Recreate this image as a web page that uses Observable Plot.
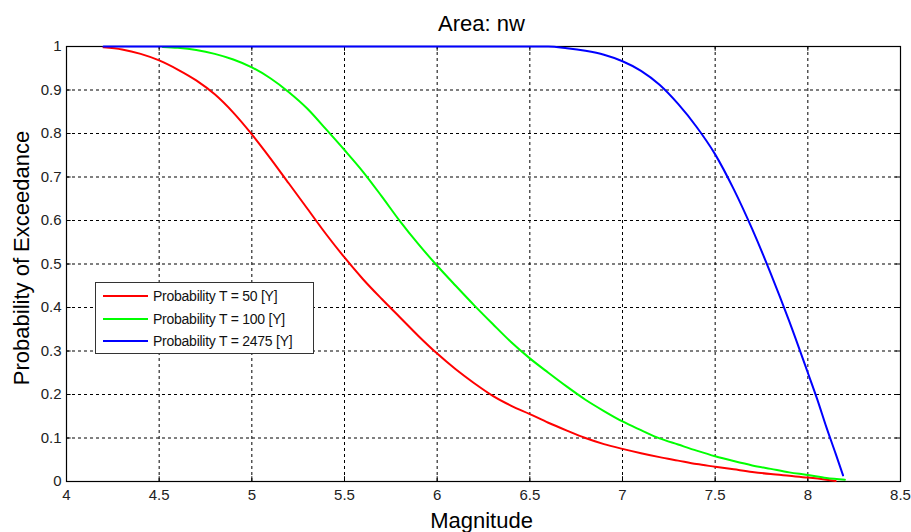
<!DOCTYPE html>
<html>
<head>
<meta charset="utf-8">
<script src="https://cdn.jsdelivr.net/npm/d3@7"></script>
<script src="https://cdn.jsdelivr.net/npm/@observablehq/plot@0.6"></script>
<style>
  html, body { margin: 0; padding: 0; background: #fff; }
  #wrap { position: relative; width: 911px; height: 532px; font-family: Arial, "Liberation Sans", sans-serif; }
  #legend { position: absolute; left: 95px; top: 282px; width: 219px; height: 72px; background: #fff; border: 1px solid #333; box-sizing: border-box; }
  .row { position: absolute; left: 7px; height: 20px; display: flex; align-items: center; }
  .sw { width: 45px; height: 2px; margin-right: 5px; }
  .lbl { font-size: 14px; letter-spacing: -0.25px; color: #111; white-space: nowrap; }
</style>
</head>
<body>
<div id="wrap"></div>
<script>
const titleText = "Area: nw";
const xLabel = "Magnitude";
const yLabel = "Probability of Exceedance";
const xTicks = [4, 4.5, 5, 5.5, 6, 6.5, 7, 7.5, 8, 8.5];
const yTicks = [0, 0.1, 0.2, 0.3, 0.4, 0.5, 0.6, 0.7, 0.8, 0.9, 1];

const seriesNames = ["Probability T = 50 [Y]", "Probability T = 100 [Y]", "Probability T = 2475 [Y]"];
const seriesColors = ["#ff0000", "#00ff00", "#0000ff"];

const magT50 = [4.2,4.3,4.4,4.5,4.6,4.7,4.8,4.9,5.0,5.1,5.2,5.3,5.4,5.5,5.6,5.7,5.8,5.9,6.0,6.1,6.2,6.3,6.4,6.5,6.6,6.7,6.8,6.9,7.0,7.1,7.2,7.3,7.4,7.5,7.6,7.7,7.8,7.9,8.0,8.1,8.15];
const probT50 = [0.998,0.993,0.983,0.968,0.947,0.922,0.89,0.848,0.798,0.743,0.685,0.627,0.569,0.515,0.465,0.42,0.377,0.334,0.294,0.258,0.226,0.197,0.174,0.155,0.135,0.117,0.100,0.086,0.075,0.065,0.056,0.048,0.040,0.034,0.028,0.022,0.017,0.013,0.009,0.004,0.001];

const magT100 = [4.52,4.6,4.7,4.8,4.9,5.0,5.1,5.2,5.3,5.4,5.5,5.6,5.7,5.8,5.9,6.0,6.1,6.2,6.3,6.4,6.5,6.6,6.7,6.8,6.9,7.0,7.1,7.2,7.3,7.4,7.5,7.6,7.7,7.8,7.9,8.0,8.1,8.2];
const probT100 = [0.999,0.997,0.992,0.983,0.97,0.952,0.927,0.895,0.857,0.81,0.762,0.712,0.656,0.598,0.545,0.496,0.45,0.405,0.362,0.32,0.283,0.25,0.218,0.188,0.162,0.138,0.118,0.099,0.085,0.071,0.058,0.047,0.037,0.029,0.021,0.015,0.008,0.004];

const magT2475 = [4.2,5.0,6.0,6.6,6.7,6.8,6.9,7.0,7.1,7.2,7.3,7.4,7.5,7.6,7.7,7.8,7.9,8.0,8.05,8.1,8.15,8.19];
const probT2475 = [1,1,1,1.0,0.996,0.99,0.981,0.966,0.944,0.912,0.868,0.815,0.752,0.672,0.58,0.478,0.368,0.25,0.19,0.125,0.064,0.014];

const mags = [magT50, magT100, magT2475];
const probs = [probT50, probT100, probT2475];
const data = [];
seriesNames.forEach((s, i) => mags[i].forEach((m, j) => data.push({series: s, mag: m, p: probs[i][j]})));

const fontFamily = 'Arial, "Liberation Sans", sans-serif';
const dash = "3,3";

const chart = Plot.plot({
  width: 911,
  height: 532,
  marginLeft: 66,
  marginRight: 11,
  marginTop: 46,
  marginBottom: 51,
  style: {fontFamily, background: "#fff", color: "#222"},
  x: {domain: [4, 8.5]},
  y: {domain: [0, 1]},
  color: {domain: seriesNames, range: seriesColors},
  marks: [
    Plot.gridX(xTicks, {stroke: "#000", strokeOpacity: 1, strokeDasharray: dash}),
    Plot.gridY(yTicks, {stroke: "#000", strokeOpacity: 1, strokeDasharray: dash}),
    Plot.ruleX(xTicks, {y1: 0, y2: 0.011, stroke: "#000"}),
    Plot.ruleX(xTicks, {y1: 0.989, y2: 1, stroke: "#000"}),
    Plot.ruleY(yTicks, {x1: 4, x2: 4.025, stroke: "#000"}),
    Plot.ruleY(yTicks, {x1: 8.475, x2: 8.5, stroke: "#000"}),
    Plot.frame({stroke: "#000", strokeWidth: 1.2}),
    Plot.line(data, {x: "mag", y: "p", z: "series", stroke: "series", strokeWidth: 2, curve: "monotone-x"}),
    Plot.axisX(xTicks, {tickSize: 0, tickPadding: 8, fontSize: 15, label: null, tickFormat: d => String(d)}),
    Plot.axisY(yTicks, {tickSize: 0, tickPadding: 5, fontSize: 15, label: null, tickFormat: d => String(d)}),
    Plot.text([titleText], {frameAnchor: "top", dy: -23, lineAnchor: "middle", textAnchor: "middle", fontSize: 22, fill: "#000", dx: -2}),
    Plot.text([xLabel], {frameAnchor: "bottom", dy: 39, lineAnchor: "middle", textAnchor: "middle", fontSize: 22, fill: "#000", dx: -2}),
    Plot.text([yLabel], {frameAnchor: "left", dx: -45, dy: -6, rotate: -90, lineAnchor: "middle", textAnchor: "middle", fontSize: 22, fill: "#000"})
  ]
});

const wrap = document.getElementById("wrap");
wrap.appendChild(chart);

const legend = document.createElement("div");
legend.id = "legend";
seriesNames.forEach((s, i) => {
  const row = document.createElement("div");
  row.className = "row";
  row.style.top = (3 + i * 22.5) + "px";
  const sw = document.createElement("span");
  sw.className = "sw";
  sw.style.background = seriesColors[i];
  const lbl = document.createElement("span");
  lbl.className = "lbl";
  lbl.textContent = s;
  row.appendChild(sw);
  row.appendChild(lbl);
  legend.appendChild(row);
});
wrap.appendChild(legend);
</script>
</body>
</html>
